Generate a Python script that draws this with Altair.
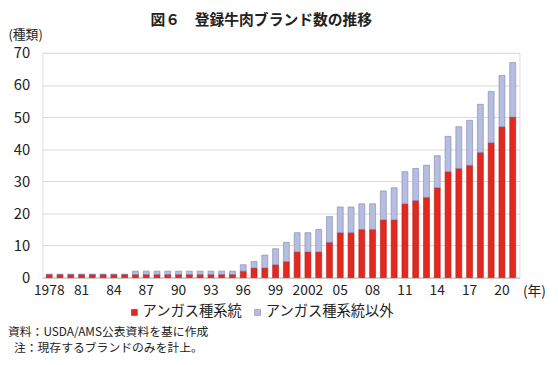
import altair as alt
import pandas as pd

years = list(range(1978, 2022))
angus = [1]*8 + [1]*10 + [2, 3, 3, 4, 5, 8, 8, 8, 11, 14, 14, 15, 15, 18, 18,
                          23, 24, 25, 28, 33, 34, 35, 39, 42, 47, 50]
total = [1]*8 + [2]*10 + [4, 5, 7, 9, 11, 14, 14, 15, 19, 22, 22, 23, 23, 27, 28,
                          33, 34, 35, 38, 44, 47, 49, 54, 58, 63, 67]
series = ["アンガス種系統", "アンガス種系統以外"]
title_text = "図６　登録牛肉ブランド数の推移"
note_lines = ["資料：USDA/AMS公表資料を基に作成", "注：現存するブランドのみを計上。"]

rows = []
for y, a, t in zip(years, angus, total):
    rows.append({"year": y, "series": series[0], "value": a, "ord": 0})
    rows.append({"year": y, "series": series[1], "value": t - a, "ord": 1})
df = pd.DataFrame(rows)

FONT = "Noto Sans CJK JP"

label_expr = ("(datum.value-1978)%3==0 ? ((datum.value==1978||datum.value==2002) ? ''+datum.value "
              ": substring(''+datum.value,2,4)) : ''")

bars = alt.Chart(df).mark_bar(strokeWidth=0.6).encode(
    x=alt.X("year:O",
            scale=alt.Scale(paddingInner=0.45, paddingOuter=0.35),
            axis=alt.Axis(title="(年)", labelExpr=label_expr, labelAngle=0,
                          labelFontSize=14, labelPadding=6, ticks=False,
                          domainColor="#bfbfbf", labelColor="#222",
                          titleX=487, titleY=14, titleAlign="left",
                          titleBaseline="middle", titleFontWeight="normal",
                          titleFontSize=14, titleColor="#222", labelFont=FONT,
                          titleFont=FONT)),
    y=alt.Y("value:Q", stack="zero",
            scale=alt.Scale(domain=[0, 70], nice=False),
            axis=alt.Axis(title="(種類)", values=list(range(0, 71, 10)),
                          domain=False, ticks=False, labelFontSize=15,
                          labelPadding=13, gridColor="#d9d9d9", labelColor="#222",
                          titleAngle=0, titleX=-35, titleY=-19, titleAlign="left",
                          titleBaseline="middle", titleFontWeight="normal",
                          titleFontSize=13, titleColor="#222", labelFont=FONT,
                          titleFont=FONT)),
    color=alt.Color("series:N",
                    scale=alt.Scale(domain=series, range=["#e2281f", "#b6bddf"]),
                    legend=alt.Legend(title=None, orient="none", direction="horizontal",
                                      legendX=86, legendY=256, padding=0,
                                      symbolType="square",
                                      symbolSize=36, labelFontSize=14.5, labelFont=FONT,
                                      labelOffset=1, columnPadding=8,
                                      labelColor="#222", symbolStrokeWidth=0.6)),
    stroke=alt.Stroke("series:N",
                      scale=alt.Scale(domain=series, range=["#b01a14", "#7c84b4"]),
                      legend=None),
    order=alt.Order("ord:Q"),
)

title = alt.Chart(pd.DataFrame({"t": [title_text]})).mark_text(
    font=FONT, fontSize=15, fontWeight="bold", align="center", baseline="middle", color="#222"
).encode(text="t:N", x=alt.value(222), y=alt.value(-33))

note1 = alt.Chart(pd.DataFrame({"t": [note_lines[0]]})).mark_text(
    font=FONT, fontSize=12, align="left", baseline="middle", color="#222"
).encode(text="t:N", x=alt.value(-35), y=alt.value(283))

note2 = alt.Chart(pd.DataFrame({"t": [note_lines[1]]})).mark_text(
    font=FONT, fontSize=12, align="left", baseline="middle", color="#222"
).encode(text="t:N", x=alt.value(-29), y=alt.value(299))

chart = alt.layer(bars, title, note1, note2).properties(
    width=484, height=228,
    autosize=alt.AutoSizeParams(type="none"),
    padding={"left": 35, "top": 43, "right": 31, "bottom": 78},
).configure_view(stroke=None).configure(font=FONT)

chart.save("out.html", embed_options={"renderer": "svg", "actions": False})
